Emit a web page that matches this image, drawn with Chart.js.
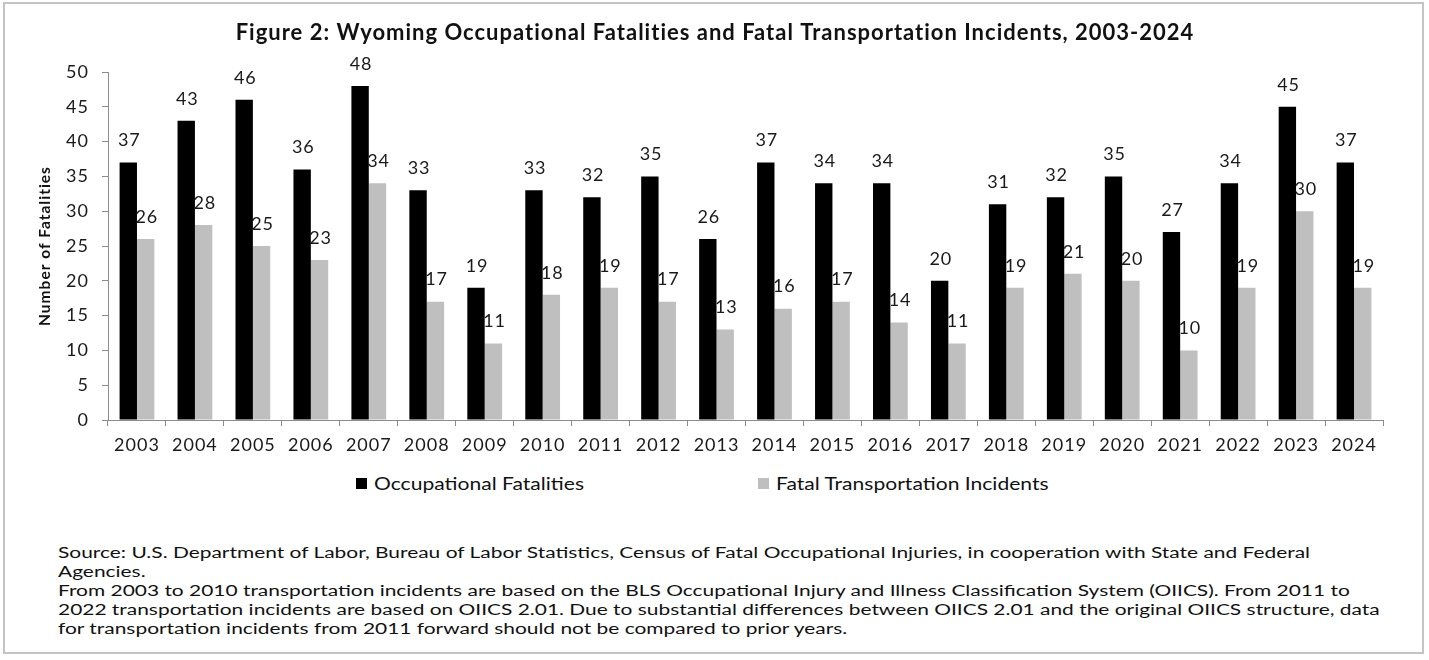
<!DOCTYPE html>
<html>
<head>
<meta charset="utf-8">
<script src="https://cdn.jsdelivr.net/npm/chart.js@4/dist/chart.umd.min.js"></script>
<style>
  html, body { margin: 0; padding: 0; background: #fff; }
  #wrap { position: relative; width: 1429px; height: 660px; overflow: hidden; font-family: Lato, "Liberation Sans", sans-serif; }
  #frame { position: absolute; left: 3px; top: 2px; width: 1421px; height: 652px; border: 2px solid #c4c4c4; box-sizing: border-box; }
  #c { position: absolute; left: 0; top: 0; }
  #legend { position: absolute; top: 473px; left: 0; width: 1429px; height: 20px; font-size: 17px; color: #111; }
  .li { position: absolute; top: 0; display: flex; align-items: center; height: 20px; white-space: nowrap; }
  .sw { width: 11px; height: 11px; margin-right: 7px; flex: none; }
  .lt { display: inline-block; transform-origin: 0 50%; }
  #source { position: absolute; left: 58px; top: 543px; font-size: 15.5px; line-height: 19px; color: #111; white-space: pre; transform-origin: 0 0; }
</style>
</head>
<body>
<div id="wrap">
  <div id="frame"></div>
  <canvas id="c" width="1429" height="460"></canvas>
  <div id="legend"></div>
  <div id="source"></div>
</div>
<script>
const categories = ["2003","2004","2005","2006","2007","2008","2009","2010","2011","2012","2013","2014","2015","2016","2017","2018","2019","2020","2021","2022","2023","2024"];
const occupationalFatalities = [37,43,46,36,48,33,19,33,32,35,26,37,34,34,20,31,32,35,27,34,45,37];
const transportationIncidents = [26,28,25,23,34,17,11,18,19,17,13,16,17,14,11,19,21,20,10,19,30,19];
const yTicks = [0,5,10,15,20,25,30,35,40,45,50];
const seriesNames = ["Occupational Fatalities", "Fatal Transportation Incidents"];
const seriesColors = ["#000000", "#bfbfbf"];
const titleText = "Figure 2: Wyoming Occupational Fatalities and Fatal Transportation Incidents, 2003-2024";
const yTitle = "Number of Fatalities";
const sourceLines = [
  "Source: U.S. Department of Labor, Bureau of Labor Statistics, Census of Fatal Occupational Injuries, in cooperation with State and Federal",
  "Agencies.",
  "From 2003 to 2010 transportation incidents are based on the BLS Occupational Injury and Illness Classification System (OIICS). From 2011 to",
  "2022 transportation incidents are based on OIICS 2.01. Due to substantial differences between OIICS 2.01 and the original OIICS structure, data",
  "for transportation incidents from 2011 forward should not be compared to prior years."
];

const FONT = 'Lato, "Liberation Sans", sans-serif';

// widen text drawn on the canvas a little (reference uses a wide face)
const spacing = {
  id: 'spacing',
  beforeDraw(chart) { chart.ctx.letterSpacing = '1px'; },
  beforeLayout(chart) { chart.ctx.letterSpacing = '1px'; }
};

// chart title, centred on the full figure width
const figTitle = {
  id: 'figTitle',
  afterDraw(chart) {
    const ctx = chart.ctx;
    ctx.save();
    ctx.letterSpacing = '1px';
    ctx.font = 'bold 22px ' + FONT;
    ctx.fillStyle = '#111';
    ctx.textAlign = 'center';
    ctx.textBaseline = 'middle';
    ctx.fillText(titleText, 715, 33);
    ctx.restore();
  }
};

const valueLabels = {
  id: 'valueLabels',
  afterDatasetsDraw(chart) {
    const ctx = chart.ctx;
    ctx.save();
    ctx.letterSpacing = '0.8px';
    ctx.font = '18px ' + FONT;
    ctx.fillStyle = '#1a1a1a';
    ctx.textAlign = 'center';
    ctx.textBaseline = 'middle';
    chart.data.datasets.forEach((ds, i) => {
      const meta = chart.getDatasetMeta(i);
      meta.data.forEach((bar, j) => {
        ctx.fillText(String(ds.data[j]), bar.x + 1, bar.y - 22);
      });
    });
    ctx.restore();
  }
};

new Chart(document.getElementById('c'), {
  type: 'bar',
  data: {
    labels: categories,
    datasets: [
      { label: seriesNames[0], data: occupationalFatalities, backgroundColor: seriesColors[0], categoryPercentage: 0.6, barPercentage: 1.0 },
      { label: seriesNames[1], data: transportationIncidents, backgroundColor: seriesColors[1], categoryPercentage: 0.6, barPercentage: 1.0 }
    ]
  },
  options: {
    responsive: false,
    animation: false,
    layout: { padding: { left: 0, right: 46, top: 72, bottom: 0 } },
    plugins: {
      legend: { display: false },
      tooltip: { enabled: false },
      title: { display: false }
    },
    scales: {
      x: {
        afterFit(scale) { scale.height = 40; },
        grid: { display: true, drawOnChartArea: false, drawTicks: true, tickLength: 6, color: '#8c8c8c', offset: true },
        border: { color: '#8c8c8c', width: 1 },
        ticks: { color: '#1a1a1a', font: { family: FONT, size: 18 }, padding: 8, maxRotation: 0, autoSkip: false }
      },
      y: {
        min: 0, max: 50,
        afterFit(scale) { scale.width = 108; },
        afterBuildTicks(scale) { scale.ticks = yTicks.map(v => ({ value: v })); },
        grid: { display: true, drawOnChartArea: false, drawTicks: true, tickLength: 6, color: '#8c8c8c' },
        border: { color: '#8c8c8c', width: 1 },
        ticks: { color: '#1a1a1a', font: { family: FONT, size: 18 }, padding: 13 },
        title: { display: true, text: yTitle, color: '#111', font: { family: FONT, size: 15.5, weight: 'bold' }, padding: { top: 36, bottom: 0 } }
      }
    }
  },
  plugins: [spacing, valueLabels, figTitle]
});

// legend
const leg = document.getElementById('legend');
const legPos = [356, 758];
seriesNames.forEach((name, i) => {
  const d = document.createElement('div');
  d.className = 'li';
  d.style.left = legPos[i] + 'px';
  d.innerHTML = '<span class="sw" style="background:' + seriesColors[i] + '"></span><span class="lt">' + name + '</span>';
  leg.appendChild(d);
});
const lts = leg.querySelectorAll('.lt');
const targetFirstLegend = 210;
const lscale = targetFirstLegend / lts[0].getBoundingClientRect().width;
lts.forEach(s => s.style.transform = 'scaleX(' + lscale + ')');

const src = document.getElementById('source');
src.textContent = sourceLines.join('\n');
// stretch source block to roughly the reference's line widths
const probe = document.createElement('span');
probe.style.font = getComputedStyle(src).font;
probe.style.whiteSpace = 'pre';
probe.style.position = 'absolute';
probe.style.visibility = 'hidden';
probe.textContent = sourceLines[0];
document.body.appendChild(probe);
const sscale = 1252 / probe.getBoundingClientRect().width;
probe.remove();
src.style.transform = 'scaleX(' + sscale + ')';
</script>
</body>
</html>
